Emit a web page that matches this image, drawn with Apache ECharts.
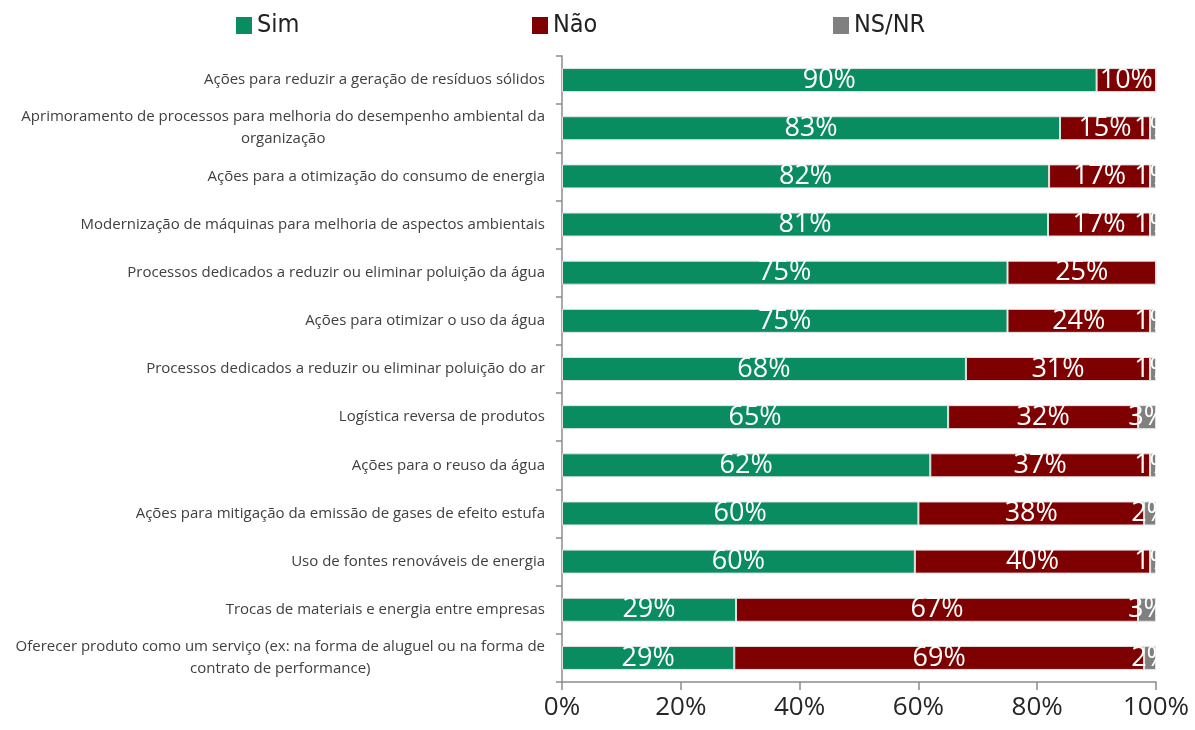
<!DOCTYPE html>
<html>
<head>
  <meta charset="UTF-8">
  <style>
    body { margin: 0; background: #fff; }
  </style>
  <script src="https://cdn.jsdelivr.net/npm/echarts@6/dist/echarts.min.js"></script>
</head>
<body>
  <div id="chart" style="width: 1195px; height: 730px;"></div>
  <script>
    const categories = [
      'Ações para reduzir a geração de resíduos sólidos',
      'Aprimoramento de processos para melhoria do desempenho ambiental da\norganização',
      'Ações para a otimização do consumo de energia',
      'Modernização de máquinas para melhoria de aspectos ambientais',
      'Processos dedicados a reduzir ou eliminar poluição da água',
      'Ações para otimizar o uso da água',
      'Processos dedicados a reduzir ou eliminar poluição do ar',
      'Logística reversa de produtos',
      'Ações para o reuso da água',
      'Ações para mitigação da emissão de gases de efeito estufa',
      'Uso de fontes renováveis de energia',
      'Trocas de materiais e energia entre empresas',
      'Oferecer produto como um serviço (ex: na forma de aluguel ou na forma de\ncontrato de performance)'
    ]
    const sim  = [90, 83, 82, 81, 75, 75, 68, 65, 62, 60, 60, 29, 29]
    const nao  = [10, 15, 17, 17, 25, 24, 31, 32, 37, 38, 40, 67, 69]
    const nsnr = [ 0,  1,  1,  1,  0,  1,  1,  3,  1,  2,  1,  3,  2]
    const xTicks = [0, 20, 40, 60, 80, 100]

    const catFont = '15px "Open Sans"'
    const barFont = 'Open Sans'

    // 100% stacked: each row is scaled to its own total (values are rounded)
    const totals = sim.map((v, i) => v + nao[i] + nsnr[i])
    const share = arr => arr.map((v, i) => ({ value: v / totals[i] * 100, raw: v }))

    // two-line labels: second line centred under the first
    const ctx = document.createElement('canvas').getContext('2d')
    ctx.font = catFont
    const rich = {}
    const catLabel = (txt, idx) => {
      const lines = txt.split('\n')
      if (lines.length < 2) return txt
      const w0 = ctx.measureText(lines[0]).width
      const w1 = ctx.measureText(lines[1]).width
      rich['p' + idx] = { padding: [0, (w0 - w1) / 2, 0, 0], fontSize: 15, fontFamily: 'Open Sans', color: '#404040', lineHeight: 22 }
      rich['a' + idx] = { fontSize: 15, fontFamily: 'Open Sans', color: '#404040', lineHeight: 22 }
      return '{a' + idx + '|' + lines[0] + '}\n{p' + idx + '|' + lines[1] + '}'
    }
    const catTexts = categories.map(catLabel)

    const myChart = echarts.init(document.getElementById('chart'))

    const barLabel = {
      show: true,
      position: 'inside',
      color: '#fff',
      fontFamily: barFont,
      fontSize: 27,
      formatter: p => p.data.raw ? p.data.raw + '%' : ''
    }
    const mkSeries = (name, arr, color) => ({
      name: name,
      type: 'bar',
      stack: 'all',
      barWidth: 24,
      data: share(arr),
      itemStyle: { color: color, borderColor: '#e3e3e3', borderWidth: 1 },
      label: barLabel,
      emphasis: { disabled: true }
    })

    const legendBase = {
      top: 8,
      itemWidth: 16,
      itemHeight: 17,
      itemGap: 8,
      icon: 'rect',
      itemStyle: { borderWidth: 0 },
      textStyle: { fontSize: 25, color: '#222', fontFamily: '"DejaVu Sans Condensed", "Liberation Sans Narrow", sans-serif' }
    }

    options = {
      animation: false,
      legend: [
        Object.assign({ left: 231, data: ['Sim'] }, legendBase),
        Object.assign({ left: 527, data: ['Não'] }, legendBase),
        Object.assign({ left: 828, data: ['NS/NR'] }, legendBase)
      ],
      grid: { left: 562, right: 39, top: 56, bottom: 48 },
      xAxis: {
        type: 'value',
        min: xTicks[0],
        max: xTicks[xTicks.length - 1],
        interval: 20,
        splitLine: { show: false },
        axisLine: { show: true, lineStyle: { color: '#8c8c8c', width: 1.5 } },
        axisTick: { show: true, length: 8, lineStyle: { color: '#8c8c8c', width: 1.5 } },
        axisLabel: { formatter: '{value}%', fontSize: 26, fontFamily: barFont, color: '#262626', margin: 13 }
      },
      yAxis: {
        type: 'category',
        inverse: true,
        data: categories,
        axisLine: { show: true, lineStyle: { color: '#8c8c8c', width: 1.5 } },
        axisTick: { show: true, length: 6, lineStyle: { color: '#8c8c8c', width: 1.5 } },
        axisLabel: {
          margin: 17,
          fontSize: 15,
          fontFamily: 'Open Sans',
          color: '#404040',
          lineHeight: 22,
          formatter: (v, i) => catTexts[i],
          rich: rich
        }
      },
      // hides the part of the small end labels that runs past the plot edge
      graphic: [{
        type: 'rect',
        z: 100,
        shape: { x: 1157, y: 56, width: 38, height: 625 },
        style: { fill: '#fff' }
      }],
      series: [
        mkSeries('Sim', sim, '#098c5f'),
        mkSeries('Não', nao, '#7f0000'),
        mkSeries('NS/NR', nsnr, '#808080')
      ]
    }

    myChart.setOption(options)
  </script>
</body>
</html>
